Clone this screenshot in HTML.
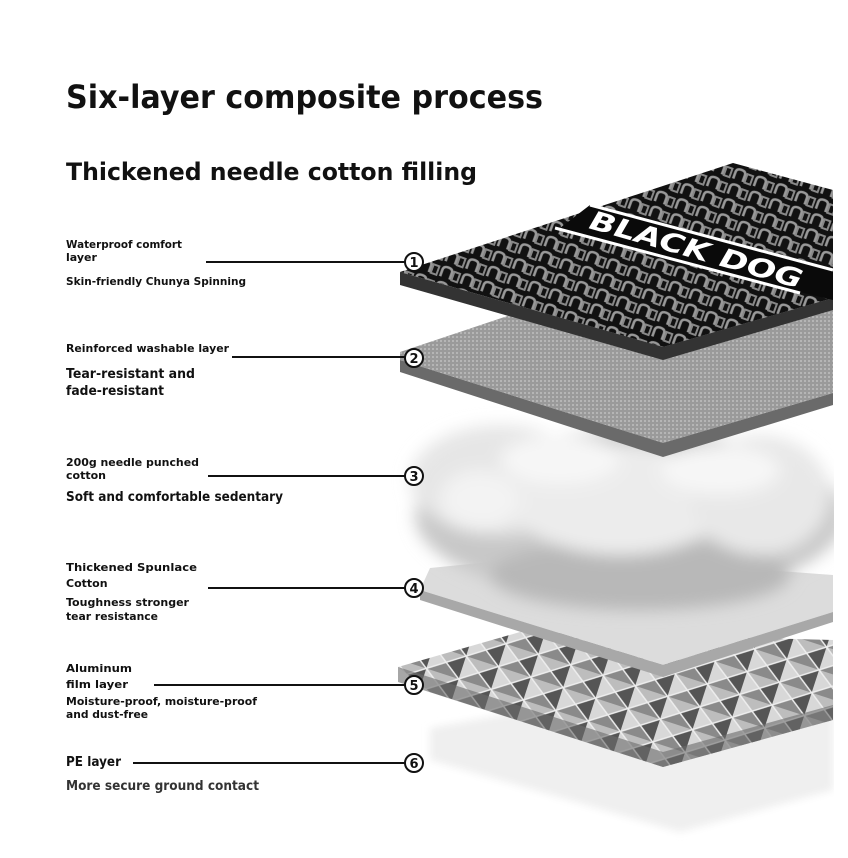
<!DOCTYPE html>
<html><head><meta charset="utf-8"><style>
html,body{margin:0;padding:0;background:#fff;}
svg{display:block;}
text{font-family:"DejaVu Sans","Liberation Sans",sans-serif;font-weight:bold;fill:#111;}
</style></head><body>
<svg width="848" height="858" viewBox="0 0 848 858" xmlns="http://www.w3.org/2000/svg">
<defs>
  <pattern id="dogs" width="22" height="16" patternUnits="userSpaceOnUse" patternTransform="rotate(20)">
    <rect width="22" height="16" fill="#111"/>
    <path d="M2 13 V6 Q2 2 7 2 Q12 2 12 6 V13" fill="none" stroke="#999" stroke-width="2.6"/>
    <rect x="14" y="4" width="6" height="9" fill="none" stroke="#888" stroke-width="2"/>
  </pattern>
  <pattern id="weave" width="4" height="4" patternUnits="userSpaceOnUse">
    <rect width="4" height="4" fill="#9a9a9a"/>
    <rect width="2" height="2" fill="#b5b5b5"/>
  </pattern>
  <pattern id="foil" width="34" height="24" patternUnits="userSpaceOnUse" patternTransform="rotate(18)">
    <rect width="34" height="24" fill="#8a8a8a"/>
    <path d="M0 0 L17 12 L0 24 Z" fill="#d8d8d8"/>
    <path d="M34 0 L17 12 L34 24 Z" fill="#555"/>
    <path d="M0 0 H34 L17 12Z" fill="#bdbdbd"/>
    <path d="M0 0 L34 24 M34 0 L0 24" stroke="#eee" stroke-width="1.5"/>
  </pattern>
  <filter id="blur" x="-20%" y="-30%" width="140%" height="160%"><feGaussianBlur stdDeviation="8"/></filter>
  <filter id="blur2"><feGaussianBlur stdDeviation="4"/></filter>
  <clipPath id="cl"><rect x="0" y="0" width="834" height="858"/></clipPath>
</defs>

<g clip-path="url(#cl)">
  <!-- PE layer -->
  <polygon points="430,728 640,690 833,700 833,790 680,832 430,760" fill="#efefef" filter="url(#blur2)"/>
  <!-- foil layer -->
  <polygon points="398,667 520,632 833,640 833,720 663,767 430,692" fill="url(#foil)"/>
  <polygon points="398,667 663,752 833,705 833,720 663,767 398,682" fill="#6a6a6a" opacity="0.6"/>
  <!-- spunlace layer -->
  <polygon points="430,568 560,555 833,575 833,612 663,665 420,590" fill="#dcdcdc"/>
  <polygon points="420,590 663,665 833,612 833,622 663,677 420,600" fill="#a8a8a8"/>
  <!-- cloud -->
  <g filter="url(#blur)">
    <ellipse cx="630" cy="515" rx="215" ry="85" fill="#c8c8c8"/>
    <ellipse cx="640" cy="575" rx="150" ry="35" fill="#b8b8b8"/>
    <ellipse cx="500" cy="480" rx="90" ry="55" fill="#e6e6e6"/>
    <ellipse cx="620" cy="500" rx="110" ry="55" fill="#ececec"/>
    <ellipse cx="760" cy="495" rx="70" ry="60" fill="#e8e8e8"/>
    <ellipse cx="560" cy="460" rx="60" ry="25" fill="#f6f6f6"/>
    <ellipse cx="720" cy="470" rx="60" ry="25" fill="#f6f6f6"/>
    <ellipse cx="480" cy="500" rx="40" ry="30" fill="#f3f3f3"/>
  </g>
  <!-- layer 2 -->
  <polygon points="400,352 720,245 833,300 833,393 663,443 400,360" fill="url(#weave)"/>
  <polygon points="400,360 663,443 833,393 833,405 663,457 400,372" fill="#6a6a6a"/>
  <!-- layer 1 black -->
  <polygon points="400,272 733,163 833,190 833,298 663,347 400,272" fill="url(#dogs)"/>
  <polygon points="400,272 663,347 833,298 833,310 663,360 400,285" fill="#333"/>
  <!-- band -->
  <polygon points="590,205 833,268 833,300 800,292 560,228" fill="#0a0a0a"/>
  <line x1="590" y1="205" x2="833" y2="270" stroke="#fff" stroke-width="3"/>
  <line x1="555" y1="228" x2="800" y2="293" stroke="#fff" stroke-width="3"/>
  <text x="0" y="0" transform="translate(588,228) rotate(16)" font-size="26" style="fill:#fff;font-style:italic" textLength="220" lengthAdjust="spacingAndGlyphs">BLACK DOG</text>
</g>

<!-- headings -->
<text x="66" y="108" font-size="32" textLength="477" lengthAdjust="spacingAndGlyphs">Six-layer composite process</text>
<text x="66" y="180" font-size="24" textLength="411" lengthAdjust="spacingAndGlyphs">Thickened needle cotton filling</text>

<g stroke="#111" stroke-width="2" fill="#fff">
  <line x1="206" y1="262" x2="405" y2="262"/><circle cx="414" cy="262" r="9"/>
  <line x1="232" y1="357" x2="405" y2="357"/><circle cx="414" cy="358" r="9"/>
  <line x1="208" y1="476" x2="405" y2="476"/><circle cx="414" cy="476" r="9"/>
  <line x1="208" y1="588" x2="405" y2="588"/><circle cx="414" cy="588" r="9"/>
  <line x1="154" y1="685" x2="405" y2="685"/><circle cx="414" cy="685" r="9"/>
  <line x1="133" y1="763" x2="405" y2="763"/><circle cx="414" cy="763" r="9"/>
</g>
<g font-size="13" text-anchor="middle">
  <text x="414" y="267">1</text><text x="414" y="363">2</text><text x="414" y="481">3</text>
  <text x="414" y="593">4</text><text x="414" y="690">5</text><text x="414" y="768">6</text>
</g>

<g font-size="11">
  <text x="66" y="248" textLength="116" lengthAdjust="spacingAndGlyphs">Waterproof comfort</text>
  <text x="66" y="261">layer</text>
  <text x="66" y="285" textLength="180" lengthAdjust="spacingAndGlyphs">Skin-friendly Chunya Spinning</text>
  <text x="66" y="352" textLength="163" lengthAdjust="spacingAndGlyphs">Reinforced washable layer</text>
  <text x="66" y="466" textLength="133" lengthAdjust="spacingAndGlyphs">200g needle punched</text>
  <text x="66" y="479">cotton</text>
  <text x="66" y="571" textLength="131" lengthAdjust="spacingAndGlyphs">Thickened Spunlace</text>
  <text x="66" y="587">Cotton</text>
  <text x="66" y="606" textLength="123" lengthAdjust="spacingAndGlyphs">Toughness stronger</text>
  <text x="66" y="620" textLength="92" lengthAdjust="spacingAndGlyphs">tear resistance</text>
  <text x="66" y="672" textLength="66" lengthAdjust="spacingAndGlyphs">Aluminum</text>
  <text x="66" y="688" textLength="62" lengthAdjust="spacingAndGlyphs">film layer</text>
  <text x="66" y="705" textLength="191" lengthAdjust="spacingAndGlyphs">Moisture-proof, moisture-proof</text>
  <text x="66" y="718" textLength="82" lengthAdjust="spacingAndGlyphs">and dust-free</text>
</g>
<g font-size="13">
  <text x="66" y="378" textLength="129" lengthAdjust="spacingAndGlyphs">Tear-resistant and</text>
  <text x="66" y="395" textLength="98" lengthAdjust="spacingAndGlyphs">fade-resistant</text>
  <text x="66" y="501" textLength="217" lengthAdjust="spacingAndGlyphs">Soft and comfortable sedentary</text>
  <text x="66" y="766" textLength="55" lengthAdjust="spacingAndGlyphs">PE layer</text>
  <text x="66" y="790" textLength="193" lengthAdjust="spacingAndGlyphs" style="fill:#333">More secure ground contact</text>
</g>
</svg>
</body></html>
